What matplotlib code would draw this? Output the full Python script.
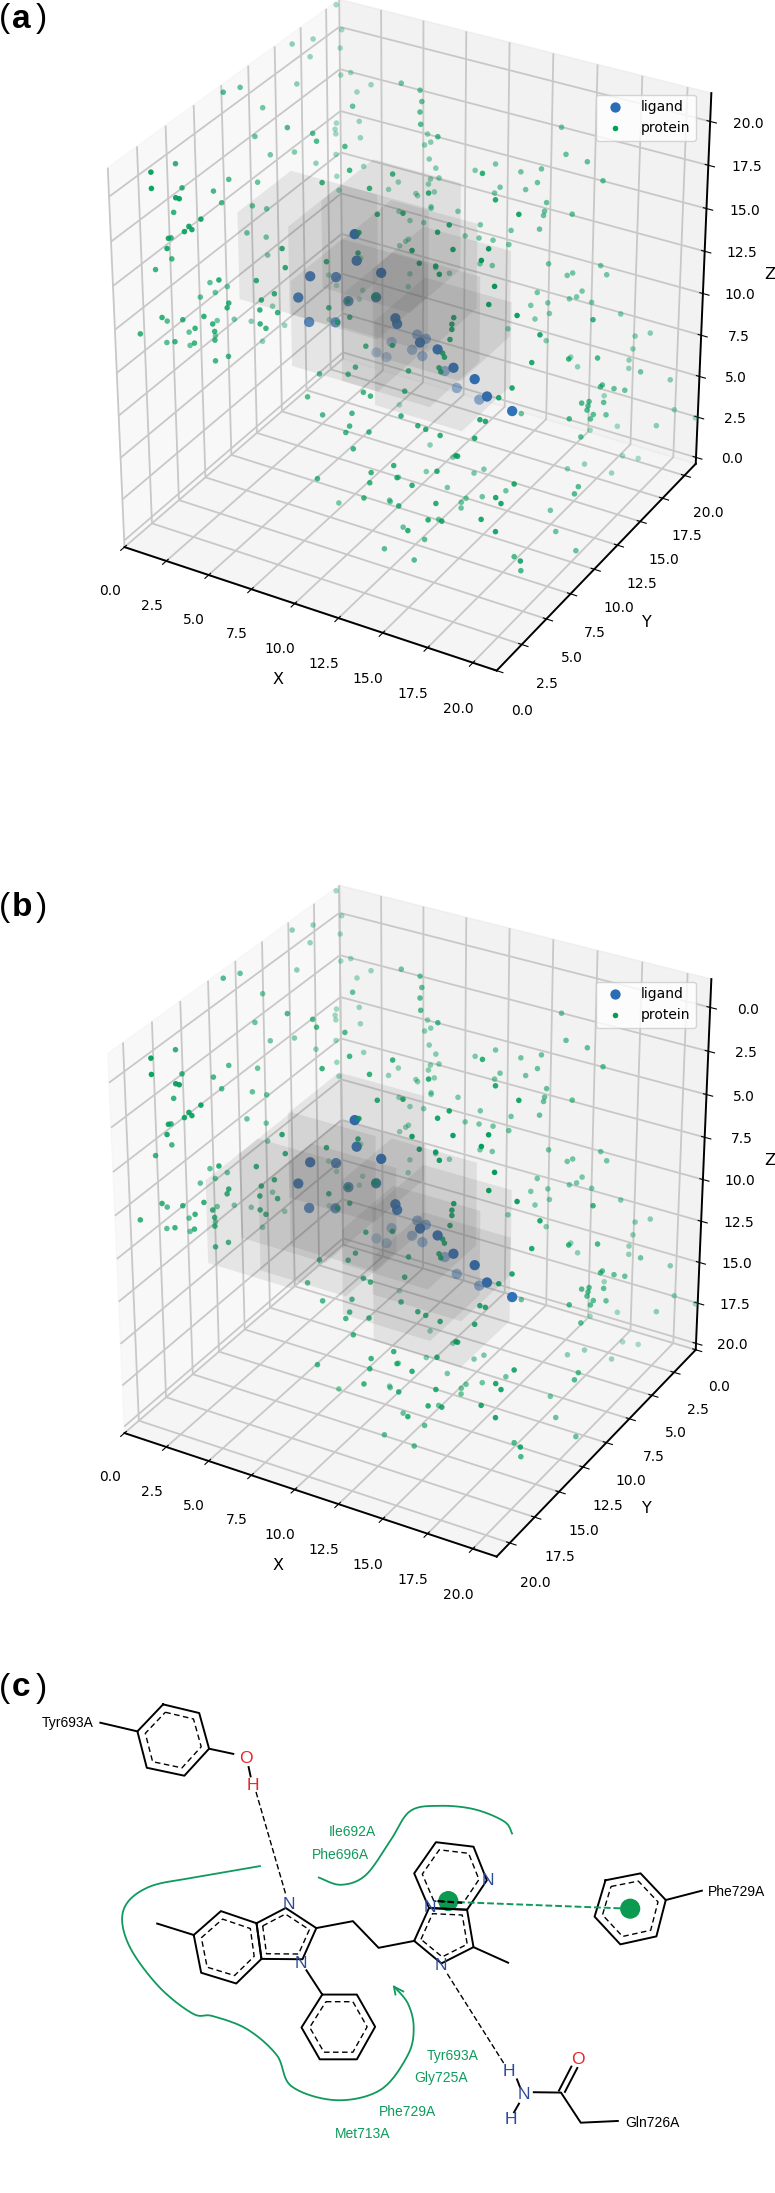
import numpy as np
import matplotlib
matplotlib.use('Agg')
import matplotlib.pyplot as plt
from matplotlib.patches import Ellipse

W, H = 775, 2193
tick_vals = [0, 2.5, 5, 7.5, 10, 12.5, 15, 17.5, 20]
GREEN = '#009e5a'
BLUE = '#2a6db5'
NAVY = '#2f4a9c'
RED = '#e8242c'
LG = '#0f9a5c'
FS = ['Liberation Sans', 'DejaVu Sans']

# atom positions, (x, y, z)
ligand_xyz = [(7.9,9.5,15.5),(8.0,9.5,14.0),(6.1,8.2,13.2),(6.8,9.5,12.7),(9.4,9.5,13.7),
(5.7,7.7,12.1),(7.5,9.5,11.5),(9.1,9.5,12.2),(6.0,8.2,10.5),(6.8,9.4,10.1),
(10.2,9.5,11.3),(10.3,9.5,11.0),(9.6,12.7,8.5),(10.1,12.7,8.4),(8.1,12.7,7.6),
(11.6,9.5,10.3),(12.6,9.5,10.2),(9.3,12.7,7.5),(7.2,12.7,6.7),(7.8,12.7,6.6),
(9.9,12.7,7.3),(13.5,9.5,9.4),(11.2,12.7,6.8),(14.7,9.5,9.1),(11.9,12.7,6.0),
(15.4,9.5,8.3),(13.2,12.7,5.7),(16.6,9.9,7.6)]
protein_xyz = [(0.3,20.5,21.7),(0.8,20.2,20.5),(1.0,19.7,19.7),(1.5,18.9,18.6),(0.1,16.5,21.1),
(0.3,18.2,20.7),(0.6,17.4,20.1),(0.5,9.4,21.6),(0.2,11.4,20.9),(0.9,15.6,19.4),
(2.7,18.5,18.1),(3.3,18.9,18.5),(6.6,16.3,20.6),(7.8,16.1,20.6),(0.8,12.5,19.4),
(2.1,18.9,18.9),(5.2,13.9,20.0),(8.3,15.4,20.4),(8.6,14.7,20.2),(2.0,17.6,16.5),
(3.3,17.7,16.9),(3.8,10.0,20.2),(4.7,10.9,19.7),(2.2,17.2,16.1),(2.1,17.3,16.3),
(1.2,11.1,18.5),(9.1,13.9,20.0),(7.2,17.9,17.1),(10.3,13.5,19.8),(3.6,17.3,16.2),
(5.1,10.6,19.5),(7.2,17.6,16.6),(7.5,17.7,16.8),(6.3,11.3,19.2),(2.0,13.5,16.7),
(1.7,11.7,17.3),(2.5,16.7,15.2),(7.7,17.2,16.1),(14.2,19.1,18.8),(14.9,18.3,17.8),
(16.1,18.3,17.7),(17.2,17.9,17.1),(1.5,1.4,21.1),(0.7,4.7,19.8),(1.7,1.1,20.4),
(1.1,4.6,18.6),(1.6,6.6,17.6),(1.6,8.0,17.6),(2.0,10.0,16.6),(2.4,14.9,15.5),
(7.4,9.9,18.8),(4.2,16.6,15.0),(9.6,10.3,19.0),(8.2,17.0,15.8),(10.3,17.3,16.1),
(13.7,11.9,19.4),(11.3,17.6,16.6),(12.8,17.5,16.6),(13.8,17.8,16.9),(13.3,17.1,15.9),
(13.8,17.4,16.3),(11.9,17.0,15.7),(6.8,8.3,18.7),(3.2,15.8,13.7),(2.9,16.1,14.3),
(9.0,9.1,18.6),(5.9,16.2,14.3),(6.3,16.5,14.7),(8.0,16.8,15.2),(8.5,16.8,15.4),
(8.0,16.6,15.0),(8.4,16.5,14.7),(11.9,9.8,18.8),(7.5,16.2,14.5),(7.6,16.2,14.4),
(2.6,1.8,19.8),(2.8,1.8,19.8),(1.8,7.0,16.8),(2.5,10.0,15.2),(2.3,9.0,15.8),
(10.2,7.8,18.1),(11.4,8.2,18.3),(6.8,15.7,13.5),(8.5,16.0,14.1),(8.5,16.0,14.0),
(8.3,15.6,13.3),(7.5,15.6,13.2),(13.9,8.3,18.3),(10.0,16.1,14.2),(11.7,16.8,15.4),
(15.2,10.5,19.0),(14.6,16.9,15.6),(16.7,10.1,18.8),(16.1,16.8,15.4),(14.6,16.7,15.2),
(14.6,16.6,15.0),(14.6,16.2,14.4),(0.9,4.1,17.4),(3.6,2.4,18.6),(3.1,2.1,18.2),
(3.2,2.2,18.0),(2.9,2.0,17.9),(2.3,1.5,17.6),(0.9,3.8,16.1),(2.2,1.5,17.0),
(0.9,3.8,14.9),(0.6,2.8,14.7),(2.2,8.6,14.4),(2.5,9.9,13.6),(6.7,4.7,16.7),
(2.5,10.0,12.5),(6.8,4.8,15.6),(5.7,3.9,15.0),(4.2,2.9,15.1),(1.5,6.2,12.5),
(1.3,5.6,11.9),(1.6,6.5,11.8),(1.8,7.3,11.8),(10.0,6.4,17.7),(10.0,6.3,16.6),
(13.6,7.7,18.1),(10.7,15.6,13.2),(11.4,15.9,13.9),(11.5,15.6,13.3),(14.9,6.9,17.9),
(12.3,15.6,13.4),(16.5,7.5,18.1),(13.2,15.6,13.4),(13.1,16.0,14.0),(13.0,6.3,17.6),
(7.7,15.1,12.4),(7.6,15.0,12.3),(7.3,14.9,12.0),(15.2,16.1,12.6),(16.0,16.6,11.9),
(16.2,16.8,12.0),(17.3,17.7,12.3),(17.6,17.8,11.8),(16.5,6.8,17.8),(11.9,15.0,12.2),
(12.6,15.0,12.3),(13.4,6.3,17.0),(14.3,6.3,17.1),(9.4,14.9,11.3),(14.5,6.3,16.7),
(10.2,14.9,11.2),(7.9,14.9,10.5),(7.8,14.9,9.7),(8.4,6.0,15.8),(3.5,14.2,9.5),
(3.6,14.8,8.6),(5.1,14.9,8.7),(5.0,14.9,10.6),(14.8,15.7,11.0),(16.1,16.7,10.5),
(16.4,16.9,10.6),(16.6,17.1,10.9),(17.0,17.4,10.2),(17.5,6.3,16.9),(14.5,15.6,10.2),
(15.2,16.1,10.3),(18.3,7.1,15.1),(14.7,15.7,9.4),(15.3,16.1,9.7),(17.2,6.3,15.8),
(19.7,12.3,12.6),(18.2,18.3,9.4),(5.9,4.0,13.9),(6.4,4.4,14.2),(2.6,10.2,9.4),
(5.8,4.0,13.3),(6.5,4.5,13.1),(5.8,4.0,12.5),(2.2,8.8,9.1),(2.4,9.5,7.6),
(6.0,4.2,12.2),(2.8,11.0,7.9),(1.9,7.7,9.7),(1.6,6.6,10.1),(4.6,3.1,13.8),
(4.5,3.1,13.5),(3.6,2.4,13.1),(3.9,2.7,12.6),(3.2,2.2,12.4),(2.7,1.9,12.9),
(1.9,1.3,13.1),(0.7,3.5,11.4),(1.0,0.7,12.2),(2.4,1.6,11.7),(0.7,3.4,10.2),
(1.1,4.8,10.2),(3.2,2.1,11.6),(1.2,4.7,9.5),(4.0,2.7,12.2),(1.6,6.4,9.3),
(4.0,2.7,11.7),(4.0,2.7,10.5),(4.5,3.1,10.7),(9.4,6.3,13.7),(9.5,6.3,12.8),
(8.5,6.0,13.2),(3.5,14.2,6.8),(8.8,6.3,12.3),(4.9,14.9,8.1),(10.9,6.3,14.4),
(11.0,6.3,14.4),(10.4,6.3,11.4),(11.9,6.3,11.9),(15.3,6.3,14.5),(15.2,6.3,14.1),
(15.2,6.3,13.8),(15.1,6.3,13.2),(13.6,14.9,8.9),(18.7,8.7,13.3),(15.2,16.0,8.1),
(14.7,6.3,12.3),(14.8,6.3,12.1),(9.8,6.3,10.0),(9.5,6.1,9.6),(8.1,5.7,9.4),
(12.8,6.3,10.7),(14.5,6.3,11.4),(14.6,6.3,11.2),(18.6,8.1,12.0),(19.3,10.6,11.1),
(16.2,16.8,7.0),(16.5,17.0,6.4),(19.8,12.7,10.2),(18.8,18.8,8.0),(19.4,19.3,8.1),
(18.7,18.8,7.2),(18.6,18.6,6.6),(18.6,18.6,6.1),(20.5,16.1,7.8),(21.0,18.5,6.2),
(18.3,6.7,11.2),(17.8,6.3,10.7),(10.6,5.7,9.1),(11.0,5.7,9.0),
(7.7,5.2,8.2),(12.7,6.1,9.6),(8.2,13.3,3.5),(17.6,17.9,4.5),(19.8,13.3,8.3),
(19.8,13.1,8.3),(20.1,14.0,7.8),(20.2,15.0,7.2),(19.9,13.3,7.3),(19.5,11.7,8.0),
(19.6,12.3,7.8),(19.6,12.2,7.6),(19.6,12.1,7.4),(19.9,13.6,6.4),(19.7,12.6,6.9),
(19.3,10.8,7.5),(19.7,12.3,6.8),(21.1,18.9,4.2),(21.5,20.6,2.9),(8.8,4.8,7.7),
(10.3,5.1,8.1),(12.9,5.4,8.6),(17.0,5.9,9.4),(17.3,5.9,9.4),(13.9,5.3,8.4),
(14.4,5.2,8.4),(10.4,4.7,7.6),(10.3,4.5,7.3),(11.5,4.7,7.6),(16.2,11.6,6.4),
(17.0,5.4,8.6),(15.2,5.2,8.3),(11.1,11.4,3.0),(10.9,4.2,6.7),(17.1,17.4,2.5),
(18.2,18.3,2.6),(19.5,11.7,6.0),(20.8,17.5,3.9),(18.7,18.0,1.1),(19.3,18.6,0.8),
(16.3,4.8,7.7),(12.6,11.1,2.9),(16.4,4.8,7.7),(13.3,4.0,6.6),(12.2,3.7,6.0),
(11.8,9.8,2.5),(15.6,4.2,6.9),(14.5,10.9,2.9),(14.1,10.6,2.7),(17.4,14.4,1.9),
(17.8,15.5,1.7),(18.9,16.4,1.0),(9.5,3.1,5.1),(10.7,8.9,2.3),(12.3,3.4,5.6),
(13.6,3.8,6.1),(14.5,3.7,6.0),(13.3,9.3,2.3),(19.3,5.2,6.8),(15.3,9.3,2.4),
(18.9,4.1,6.5),(16.2,10.1,2.6),(19.3,3.9,6.4),(20.2,10.2,4.1),(20.2,9.8,3.9),
(14.6,8.9,2.3),(14.5,8.6,2.2),(14.6,8.4,2.0),(12.2,3.0,4.9),(8.7,6.4,1.5),
(11.0,7.5,1.8),(14.1,3.1,5.0),(11.1,7.4,1.8),(16.0,3.4,5.6),(18.2,11.1,1.5),
(15.8,3.0,4.8),(14.0,7.2,1.8),(16.5,3.1,4.9),(18.5,3.4,5.5),(19.4,3.2,5.2),
(19.0,10.2,1.0),(12.6,6.1,1.5),(14.9,2.6,4.1),(14.0,5.8,1.4),(12.4,4.6,1.0),
(14.1,4.6,0.9),(20.2,10.1,0.3),(18.5,6.8,1.3),(20.4,3.9,3.4),(19.1,6.4,0.9)]
# lower corners of the shaded 5 x 5 x 5 boxes
boxes_a = [(2.9,6.7,11.7),(6.0,6.4,11.9),(4.7,8.6,7.3),(6.5,8.7,12.4),(8.3,7.5,8.1),(9.0,9.5,5.8),(6.4,10.6,9.1),(9.2,9.0,9.1)]
boxes_b = [(-0.7,7.2,10.3),(1.3,7.1,8.2),(3.5,8.8,8.6),(2.9,5.0,6.4),(4.0,6.7,8.1),(5.9,4.8,9.6),(10.3,9.2,7.7),(9.8,8.3,11.1),(8.5,9.1,9.5)]

# panel c, sketch coordinates
tyr_ring = [(330, 157), (403, 182), (423, 285), (373, 363), (297, 340), (278, 235)]
phe_ring = [(1225, 665), (1296, 645), (1347, 722), (1328, 827), (1255, 850), (1203, 770)]
benz_ring = [(392, 823), (447, 754), (519, 789), (529, 892), (478, 963), (407, 932)]
imid_ring = [(519, 789), (578, 745), (640, 803), (612, 893), (529, 892)]
phenyl_ring = [(652, 995), (722, 995), (759, 1088), (722, 1182), (647, 1182), (610, 1090)]
imid2_ring = [(838, 840), (868, 745), (945, 750), (958, 858), (893, 905)]
pyr_ring = [(868, 745), (838, 645), (882, 555), (958, 568), (985, 665), (945, 750)]
rings = [tyr_ring, phe_ring, benz_ring, imid_ring, phenyl_ring, imid2_ring, pyr_ring]
bonds = [[(203, 210), (278, 235)], [(423, 285), (472, 300)], [(503, 338), (507, 365)], [(318, 790), (392, 823)],
         [(640, 803), (714, 783), (766, 860), (838, 840)], [(620, 925), (652, 995)], [(958, 858), (1028, 903)],
         [(1046, 1240), (1052, 1262)], [(1050, 1310), (1040, 1335)], [(1080, 1277), (1135, 1278), (1175, 1365), (1250, 1360)],
         [(1131, 1272), (1156, 1203)], [(1143, 1276), (1168, 1207)], [(1347, 722), (1420, 695)]]
hbonds = [[(518, 410), (578, 705)], [(905, 935), (1020, 1195)]]
curve_top = [(645, 657), (690, 678), (740, 650), (790, 550), (830, 465), (890, 450), (960, 460), (1020, 495), (1036, 530)]
curve_big = [(526, 624), (400, 655), (300, 685), (250, 750), (260, 850), (320, 970), (390, 1050), (430, 1057), (500, 1095), (560, 1170), (590, 1260), (680, 1300), (770, 1270), (825, 1170), (837, 1090), (825, 1020), (797, 972)]
atoms = [('O', 497, 313, RED), ('H', 512, 390, RED), ('N', 584, 735, NAVY), ('N', 608, 906, NAVY), ('N', 870, 745, NAVY),
         ('N', 893, 912, NAVY), ('N', 987, 667, NAVY), ('H', 1030, 1217, NAVY), ('N', 1060, 1285, NAVY), ('H', 1034, 1357, NAVY), ('O', 1170, 1183, RED)]
black_labels = [('Tyr693A', 136, 212), ('Phe729A', 1490, 700), ('Gln726A', 1320, 1365)]
green_labels = [('Ile692A', 712, 526), ('Phe696A', 689, 591), ('Tyr693A', 915, 1172), ('Gly725A', 892, 1236), ('Phe729A', 825, 1333), ('Met713A', 734, 1397)]

fig = plt.figure(figsize=(W / 100, H / 100), dpi=100)


def make_ax(cx, cy, w, h, xlim, ylim, zlim):
    ax = fig.add_axes([(cx - w / 2) / W, (H - cy - h / 2) / H, w / W, h / H], projection='3d')
    # old mplot3d stretches the cube with the axes box
    ax.apply_aspect = lambda position=None: None
    ax.set_box_aspect((1, 1, 1))
    ax.computed_zorder = False
    ax.set_xlim(*xlim)
    ax.set_ylim(*ylim)
    ax.set_zlim(*zlim)
    ax.set_xticks(tick_vals)
    ax.set_yticks(tick_vals)
    ax.set_zticks(tick_vals)
    ax.set_xlabel('X', labelpad=13, fontsize=11.5)
    ax.set_ylabel('Y', labelpad=13, fontsize=11.5)
    ax.set_zlabel('Z', labelpad=11, fontsize=11.5)
    ax.tick_params(labelsize=10, pad=10)
    for axis in (ax.xaxis, ax.yaxis, ax.zaxis):
        axis._axinfo['grid'].update(color='#c8c8c8', linewidth=1.3)
        axis.line.set_linewidth(1.4)
    return ax


def draw(ax, prot, lig, boxes, legend_y):
    h1 = ax.scatter(lig[:, 0], lig[:, 1], lig[:, 2], s=55, c=BLUE, label='ligand', zorder=3, linewidths=0)
    h2 = ax.scatter(prot[:, 0], prot[:, 1], prot[:, 2], s=16, c=GREEN, label='protein', zorder=3, linewidths=0)
    for b in boxes:
        ax.bar3d(b[0], b[1], b[2], 5, 5, 5, color='#555555', alpha=0.06, shade=False, edgecolor='none', linewidth=0, zorder=4)
    fig.legend(handles=[h1, h2], loc='upper left', bbox_to_anchor=(596 / W, 1 - legend_y / H), bbox_transform=fig.transFigure, fontsize=10, borderaxespad=0)


prot = np.array(protein_xyz)
lig = np.array(ligand_xyz)
ax_a = make_ax(405.2, 332.2, 722.3, 727.6, (0, 21.3), (0, 21.3), (-0.4, 21.6))
draw(ax_a, prot, lig, boxes_a, 94.5)

# panel b has y and z running the other way
prot_b = np.c_[prot[:, 0], 21.3 - prot[:, 1], 20 - prot[:, 2]]
lig_b = np.c_[lig[:, 0], 21.3 - lig[:, 1], 20 - lig[:, 2]]
ax_b = make_ax(405.2, 332.2 + 886, 722.3, 727.6, (0, 21.3), (21.3, 0), (20.4, -1.6))
draw(ax_b, prot_b, lig_b, boxes_b, 981.5)

ax_c = fig.add_axes([0, 0, 1, 543 / H])
ax_c.set_xlim(0, 1568)
ax_c.set_ylim(1568, 0)
ax_c.axis('off')


def smooth(pts, n=20):
    pts = np.array(pts, float)
    pts = np.vstack([pts[0], pts, pts[-1]])
    out = []
    for i in range(1, len(pts) - 2):
        p0, p1, p2, p3 = pts[i - 1], pts[i], pts[i + 1], pts[i + 2]
        for t in np.linspace(0, 1, n, endpoint=False):
            out.append(0.5 * (2 * p1 + (p2 - p0) * t + (2 * p0 - 5 * p1 + 4 * p2 - p3) * t ** 2 + (3 * p1 - p0 - 3 * p2 + p3) * t ** 3))
    out.append(pts[-2])
    return np.array(out)


for ring in rings:
    r = np.array(ring + ring[:1], float)
    ax_c.plot(r[:, 0], r[:, 1], color='k', lw=1.4, solid_joinstyle='round')
    c = r[:-1].mean(axis=0)
    inner = c + (r - c) * 0.78
    ax_c.plot(inner[:, 0], inner[:, 1], color='k', lw=1.0, dashes=(4, 2.5))
for b in bonds:
    b = np.array(b)
    ax_c.plot(b[:, 0], b[:, 1], color='k', lw=1.4)
for b in hbonds:
    b = np.array(b)
    ax_c.plot(b[:, 0], b[:, 1], color='k', lw=1.0, dashes=(4, 2))
for cv in (curve_top, curve_big):
    sm = smooth(cv)
    ax_c.plot(sm[:, 0], sm[:, 1], color=LG, lw=1.3)
ax_c.plot([816, 797, 800], [986, 972, 995], color=LG, lw=1.3)
ax_c.plot([907, 1275], [727, 747], color=LG, lw=1.4, dashes=(3.5, 1.5))
ax_c.plot([885, 935], [725, 730], color='k', lw=1.6, dashes=(3, 1.5))
ax_c.add_patch(Ellipse((907, 725), 38, 54, color='#0a9a50', zorder=1))
ax_c.add_patch(Ellipse((1275, 747), 38, 54, color='#0a9a50', zorder=1))
for name, x, y, col in atoms:
    ax_c.text(x, y, name, color=col, fontsize=12.5, ha='center', va='center', family=FS)
for name, x, y in black_labels:
    ax_c.text(x, y, name, color='k', fontsize=10, ha='center', va='center', family=FS)
for name, x, y in green_labels:
    ax_c.text(x, y, name, color=LG, fontsize=10, ha='center', va='center', family=FS)

for letter, y in (('a', 19), ('b', 908), ('c', 1688)):
    fig.text(-1 / W, 1 - y / H, '(', fontsize=24, ha='left', va='center', family=FS)
    fig.text(12 / W, 1 - y / H, letter, fontsize=24, fontweight='bold', ha='left', va='center', family=FS)
    fig.text(36 / W, 1 - y / H, ')', fontsize=24, ha='left', va='center', family=FS)

fig.savefig('out.png', dpi=100)
